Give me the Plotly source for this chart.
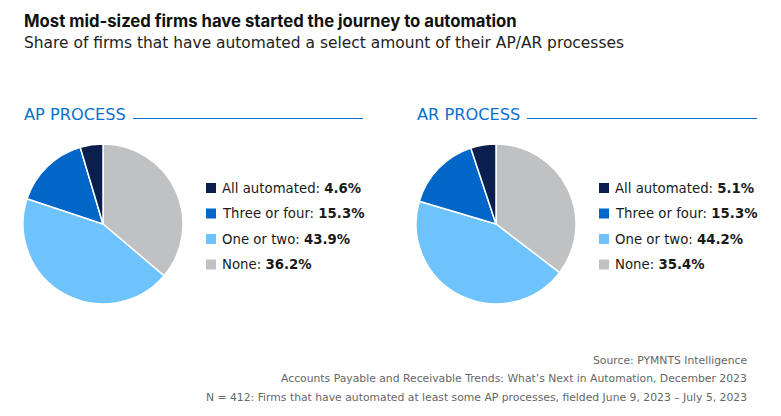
import plotly.graph_objects as go

W, H = 781, 416

# slices clockwise from 12 o'clock
labels = ['None', 'One or two', 'Three or four', 'All automated']
ap_values = [36.2, 43.9, 15.3, 4.6]
ar_values = [35.4, 44.2, 15.3, 5.1]
colors = ['#c0c1c3', '#6fc3fd', '#0066c8', '#0a1f4e']

title = 'Most mid-sized firms have started the journey to automation'
subtitle = 'Share of firms that have automated a select amount of their AP/AR processes'
footer = [
    'Source: PYMNTS Intelligence',
    'Accounts Payable and Receivable Trends: What\u2019s Next in Automation, December 2023',
    'N = 412: Firms that have automated at least some AP processes, fielded June 9, 2023 \u2013 July 5, 2023',
]

FONT = 'DejaVu Sans'
BLUE = '#0a6fcf'
OFF = 8  # page body margin


def px(x):
    return (x - OFF) / W


def py(y):
    return 1 - (y - OFF) / H


fig = go.Figure()

panels = [
    ('AP PROCESS', ap_values, 23, 133, 363, 206),
    ('AR PROCESS', ar_values, 416, 527, 757, 599),
]

annotations = []
shapes = []

for name, vals, left, line_x0, line_x1, leg_x in panels:
    fig.add_trace(go.Pie(
        labels=labels, values=vals, sort=False, direction='clockwise', rotation=0,
        marker=dict(colors=colors, line=dict(color='white', width=1.5)),
        textinfo='none', hoverinfo='label+value', showlegend=False,
        domain=dict(x=[px(left), px(left + 160)], y=[py(304), py(144)]),
    ))
    annotations.append(dict(
        x=px(left - 1), y=py(114), xref='paper', yref='paper', xanchor='left', yanchor='middle',
        text=name, showarrow=False, font=dict(family=FONT, size=16.2, color=BLUE),
    ))
    shapes.append(dict(type='line', xref='paper', yref='paper',
                       x0=px(line_x0), x1=px(line_x1), y0=py(118.5), y1=py(118.5),
                       line=dict(color=BLUE, width=1)))
    # legend, top to bottom = reverse of slice order
    for i, k in enumerate(reversed(range(len(labels)))):
        yc = 188 + i * 25.5
        shapes.append(dict(type='rect', xref='paper', yref='paper',
                           x0=px(leg_x), x1=px(leg_x + 10), y0=py(yc - 5), y1=py(yc + 5),
                           fillcolor=colors[k], line=dict(width=0)))
        annotations.append(dict(
            x=px(leg_x + 14), y=py(yc), xref='paper', yref='paper', xanchor='left', yanchor='middle',
            text=f'{labels[k]}: <b>{vals[k]:.1f}%</b>', showarrow=False,
            font=dict(family=FONT, size=13.3, color='#1a1a1a'),
        ))

annotations.append(dict(
    x=px(22), y=py(21), xref='paper', yref='paper', xanchor='left', yanchor='middle',
    text=f'<b>{title}</b>', showarrow=False, font=dict(family='Inter', size=16.7, color='#111111'),
))
annotations.append(dict(
    x=px(22), y=py(43), xref='paper', yref='paper', xanchor='left', yanchor='middle',
    text=subtitle, showarrow=False, font=dict(family=FONT, size=15.45, color='#222222'),
))
for i, line in enumerate(footer):
    annotations.append(dict(
        x=px(749), y=py(360 + i * 18.5), xref='paper', yref='paper', xanchor='right', yanchor='middle',
        text=line, showarrow=False, font=dict(family=FONT, size=10.8, color='#666666'),
    ))

fig.update_layout(
    width=W, height=H, margin=dict(l=0, r=0, t=0, b=0),
    paper_bgcolor='white', plot_bgcolor='white',
    annotations=annotations, shapes=shapes,
)

fig.write_html('out.html')
